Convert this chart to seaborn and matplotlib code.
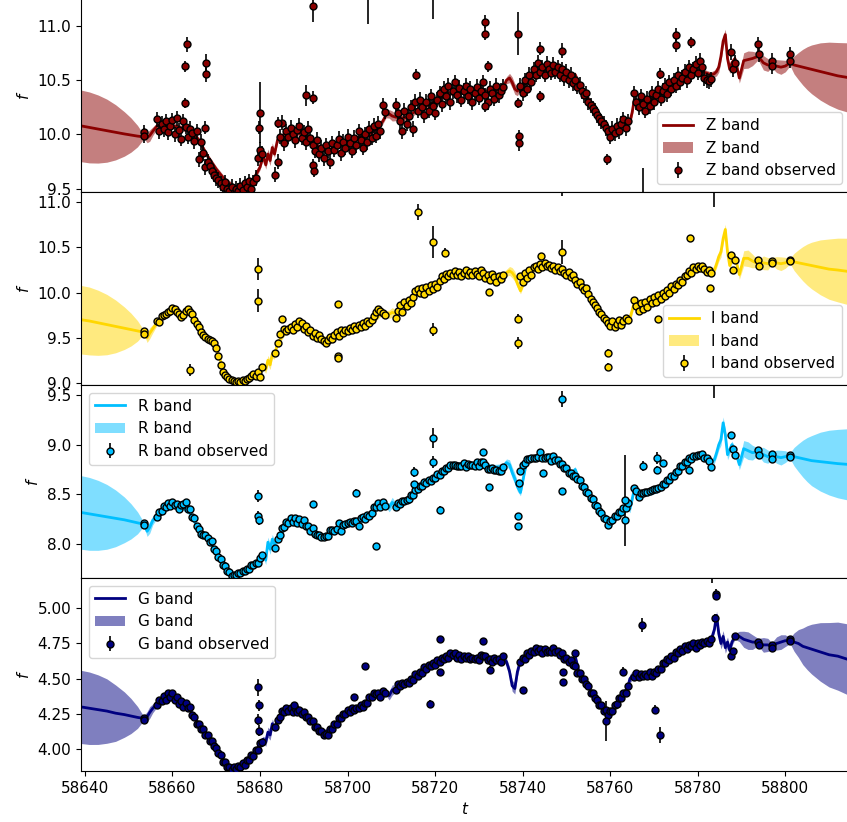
import numpy as np
import matplotlib
matplotlib.use("Agg")
import matplotlib.pyplot as plt
import seaborn as sns

# observation times (MJD), shared by the four bands
obs_t = [
    58653.4, 58653.6,
    58656.5, 58657.0, 58657.5, 58658.0, 58658.5, 58659.0, 58659.5, 58660.0, 58660.5, 58661.0,
    58661.5, 58662.0, 58662.5, 58663.0, 58663.5, 58664.0, 58664.5, 58665.0, 58665.5, 58666.0,
    58666.5, 58667.0, 58667.5, 58668.0, 58668.5, 58669.0, 58669.5, 58670.0, 58670.5, 58671.0,
    58671.5, 58672.0, 58672.5, 58673.0, 58673.5, 58674.0, 58674.5, 58675.0, 58675.5, 58676.0,
    58676.5, 58677.0, 58677.5, 58678.0, 58678.5, 58679.0, 58679.5, 58680.0, 58680.5,
    58683.5, 58684.0, 58684.5, 58685.0, 58685.5, 58686.0, 58686.5, 58687.0, 58687.5, 58688.0,
    58688.5, 58689.0, 58689.5, 58690.0, 58690.5, 58691.0, 58691.5, 58692.0, 58692.5, 58693.0,
    58693.5, 58694.0, 58694.5, 58695.0, 58695.5, 58696.0, 58696.5, 58697.0, 58697.5, 58698.0,
    58698.5, 58699.0, 58699.5, 58700.0, 58700.5, 58701.0, 58701.5, 58702.0, 58702.5, 58703.0,
    58703.5, 58704.0, 58704.5, 58705.0, 58705.5, 58706.0, 58706.5, 58707.0, 58707.5, 58708.0, 58708.5,
    58711.0, 58711.5, 58712.0, 58712.5, 58713.0, 58713.5, 58714.0, 58714.5, 58715.0, 58715.5,
    58716.0, 58716.5, 58717.0, 58717.5, 58718.0, 58718.5, 58719.0, 58719.5, 58720.0, 58720.5,
    58721.0, 58721.5, 58722.0, 58722.5, 58723.0, 58723.5, 58724.0, 58724.5, 58725.0, 58725.5,
    58726.0, 58726.5, 58727.0, 58727.5, 58728.0, 58728.5, 58729.0, 58729.5, 58730.0, 58730.5,
    58731.0, 58731.5, 58732.0, 58732.5, 58733.0, 58733.5, 58734.0, 58734.5, 58735.0, 58735.5,
    58739.5, 58740.0, 58740.5, 58741.0, 58741.5, 58742.0, 58742.5, 58743.0, 58743.5, 58744.0,
    58744.5, 58745.0, 58745.5, 58746.0, 58746.5, 58747.0, 58747.5, 58748.0, 58748.5, 58749.0,
    58749.5, 58750.0, 58750.5, 58751.0, 58751.5, 58752.0, 58752.5, 58753.0, 58753.5, 58754.0,
    58754.5, 58755.0, 58755.5, 58756.0, 58756.5, 58757.0, 58757.5, 58758.0, 58758.5, 58759.0,
    58759.5, 58760.0, 58760.5, 58761.0, 58761.5, 58762.0, 58762.5, 58763.0, 58763.5, 58764.0,
    58765.5, 58766.0, 58766.5, 58767.0, 58767.5, 58768.0, 58768.5, 58769.0, 58769.5, 58770.0,
    58770.5, 58771.0, 58771.5, 58772.0, 58772.5, 58773.0, 58773.5, 58774.0, 58774.5, 58775.0,
    58775.5, 58776.0, 58776.5, 58777.0, 58777.5, 58778.0, 58778.5, 58779.0, 58779.5, 58780.0,
    58780.5, 58781.0, 58781.5, 58782.0, 58782.5, 58783.0,
    58787.5, 58788.0, 58788.5,
    58793.8, 58793.9, 58796.9, 58797.0, 58801.0, 58801.1,
]

z_obs = [
    10.02, 9.99,
    10.14, 10.03, 10.10, 10.05, 10.12, 10.02, 10.08, 10.13, 10.00, 10.15,
    10.04, 9.96, 10.12, 10.07, 9.98, 10.05, 10.01, 9.94, 10.03, 9.77,
    9.93, 9.83, 9.70, 9.75, 9.71, 9.66, 9.63, 9.60, 9.58, 9.55,
    9.52, 9.56, 9.50, 9.48, 9.52, 9.46, 9.50, 9.48, 9.53, 9.49,
    9.55, 9.52, 9.57, 9.50, 9.56, 9.60, 9.78, 9.86, 9.82,
    9.63, 9.75, 9.98, 10.11, 9.92, 10.03, 9.98, 10.06, 10.00, 9.95,
    10.04, 10.08, 9.97, 10.02, 9.93, 10.05, 9.97, 9.90, 9.85, 9.95,
    9.82, 9.88, 9.78, 9.90, 9.85, 9.75, 9.92, 9.86, 9.90, 9.96,
    9.83, 9.93, 9.88, 9.98, 9.92, 9.85, 9.97, 9.90, 10.03, 9.95,
    9.88, 10.00, 9.93, 10.05, 9.97, 10.08, 9.99, 10.10, 10.03, 10.27, 10.21,
    10.27, 10.20, 10.12, 10.03, 10.22, 10.10, 10.17, 10.25, 10.05, 10.30,
    10.22, 10.32, 10.25, 10.18, 10.30, 10.22, 10.35, 10.26, 10.20, 10.32,
    10.38, 10.28, 10.42, 10.35, 10.45, 10.30, 10.40, 10.48, 10.36, 10.43,
    10.32, 10.40, 10.45, 10.35, 10.42, 10.30, 10.38, 10.44, 10.34, 10.40,
    10.48, 10.36, 10.30, 10.42, 10.38, 10.33, 10.45, 10.36, 10.40, 10.44,
    10.45, 10.38, 10.50, 10.42, 10.55, 10.48, 10.60, 10.55, 10.66, 10.58,
    10.62, 10.55, 10.65, 10.60, 10.57, 10.64, 10.58, 10.62, 10.55, 10.60,
    10.52, 10.58, 10.50, 10.55, 10.47, 10.50, 10.44, 10.46, 10.40, 10.36,
    10.38, 10.30, 10.27, 10.24, 10.22, 10.18, 10.15, 10.12, 10.10, 10.06,
    10.03, 9.98, 10.05, 10.01, 10.08, 10.03, 10.10, 10.14, 10.06, 10.12,
    10.38, 10.30, 10.25, 10.35, 10.28, 10.22, 10.33, 10.26, 10.38, 10.30,
    10.36, 10.42, 10.33, 10.40, 10.45, 10.37, 10.48, 10.42, 10.50, 10.45,
    10.55, 10.48, 10.52, 10.58, 10.50, 10.62, 10.55, 10.60, 10.65, 10.57,
    10.68, 10.62, 10.52, 10.50, 10.49, 10.51,
    10.76, 10.60, 10.66,
    10.83, 10.74, 10.68, 10.63, 10.74, 10.68,
]

i_obs = [
    9.57, 9.54,
    9.68, 9.67, 9.74, 9.75, 9.76, 9.78, 9.80, 9.83, 9.82, 9.78,
    9.76, 9.73, 9.75, 9.80, 9.82, 9.79, 9.76, 9.70, 9.65, 9.62,
    9.56, 9.53, 9.51, 9.49, 9.47, 9.46, 9.44, 9.38, 9.30, 9.20,
    9.12, 9.09, 9.06, 9.04, 9.03, 9.02, 9.01, 9.02, 9.01, 9.03,
    9.02, 9.04, 9.05, 9.07, 9.10, 9.08, 9.12, 9.06, 9.18,
    9.33, 9.44, 9.54, 9.71, 9.60, 9.57, 9.60, 9.62, 9.58, 9.65,
    9.62, 9.68, 9.66, 9.60, 9.63, 9.56, 9.58, 9.52, 9.55, 9.50,
    9.53, 9.48, 9.46, 9.44, 9.47, 9.51, 9.49, 9.53, 9.56, 9.52,
    9.58, 9.55, 9.59, 9.57, 9.61, 9.58, 9.63, 9.60, 9.64, 9.62,
    9.66, 9.63, 9.68, 9.66, 9.70, 9.74, 9.78, 9.82, 9.80, 9.77, 9.75,
    9.72, 9.80, 9.86, 9.78, 9.90, 9.85, 9.92, 9.88, 9.95, 10.02,
    10.04, 10.00, 10.05, 9.98, 10.06, 10.02, 10.08, 10.04, 10.10, 10.06,
    10.13, 10.18, 10.15, 10.21, 10.18, 10.22, 10.19, 10.24, 10.20, 10.23,
    10.18, 10.22, 10.25, 10.20, 10.23, 10.19, 10.24, 10.21, 10.18, 10.25,
    10.22, 10.16, 10.20, 10.14, 10.21, 10.17, 10.12, 10.18, 10.15, 10.20,
    10.18, 10.12, 10.22, 10.16, 10.25, 10.20, 10.28, 10.30, 10.26, 10.32,
    10.28, 10.33, 10.29, 10.31, 10.27, 10.30, 10.25, 10.28, 10.24, 10.26,
    10.22, 10.20, 10.23, 10.17, 10.19, 10.14, 10.10, 10.12, 10.06, 10.03,
    10.05, 9.98, 9.93, 9.90, 9.86, 9.83, 9.79, 9.76, 9.72, 9.70,
    9.66, 9.63, 9.68, 9.62, 9.65, 9.70, 9.64, 9.68, 9.72, 9.70,
    9.92, 9.85, 9.80, 9.88, 9.82, 9.90, 9.84, 9.93, 9.88, 9.95,
    9.90, 9.97, 9.93, 10.00, 9.96, 10.03, 10.00, 10.07, 10.04, 10.10,
    10.08, 10.14, 10.12, 10.18, 10.20, 10.24, 10.22, 10.28, 10.26, 10.30,
    10.27, 10.29, 10.26, 10.23, 10.25, 10.22,
    10.42, 10.25, 10.36,
    10.36, 10.29, 10.35, 10.33, 10.36, 10.35,
]

r_obs = [
    8.21, 8.19,
    8.27, 8.32, 8.33, 8.38, 8.37, 8.41, 8.38, 8.42, 8.39, 8.40,
    8.35, 8.39, 8.40, 8.42, 8.35, 8.35, 8.27, 8.26, 8.18, 8.15,
    8.10, 8.09, 8.09, 8.06, 8.02, 8.03, 7.95, 7.93, 7.87, 7.85,
    7.79, 7.78, 7.73, 7.72, 7.68, 7.69, 7.69, 7.71, 7.71, 7.73,
    7.73, 7.75, 7.75, 7.79, 7.79, 7.81, 7.81, 7.86, 7.89,
    7.96, 8.05, 8.09, 8.16, 8.17, 8.22, 8.21, 8.26, 8.22, 8.26,
    8.21, 8.25, 8.20, 8.24, 8.18, 8.18, 8.13, 8.16, 8.10, 8.09,
    8.09, 8.07, 8.07, 8.08, 8.08, 8.14, 8.14, 8.13, 8.15, 8.21,
    8.13, 8.19, 8.20, 8.21, 8.22, 8.21, 8.23, 8.23, 8.18, 8.26,
    8.27, 8.25, 8.29, 8.28, 8.31, 8.37, 8.37, 8.41, 8.37, 8.42, 8.38,
    8.37, 8.41, 8.40, 8.43, 8.43, 8.44, 8.45, 8.49, 8.49, 8.54,
    8.55, 8.59, 8.59, 8.63, 8.62, 8.65, 8.64, 8.67, 8.67, 8.71,
    8.70, 8.74, 8.74, 8.77, 8.77, 8.80, 8.80, 8.80, 8.79, 8.79,
    8.79, 8.82, 8.78, 8.81, 8.80, 8.80, 8.79, 8.83, 8.79, 8.83,
    8.83, 8.80, 8.76, 8.76, 8.77, 8.75, 8.75, 8.74, 8.74, 8.78,
    8.74, 8.80, 8.82, 8.86, 8.86, 8.87, 8.87, 8.87, 8.88, 8.93,
    8.87, 8.87, 8.88, 8.88, 8.84, 8.89, 8.85, 8.85, 8.81, 8.81,
    8.77, 8.77, 8.72, 8.72, 8.69, 8.69, 8.66, 8.65, 8.59, 8.58,
    8.52, 8.51, 8.46, 8.45, 8.39, 8.38, 8.33, 8.31, 8.26, 8.25,
    8.19, 8.23, 8.24, 8.28, 8.28, 8.32, 8.32, 8.36, 8.36, 8.41,
    8.56, 8.53, 8.47, 8.51, 8.51, 8.52, 8.52, 8.53, 8.54, 8.55,
    8.55, 8.56, 8.57, 8.61, 8.61, 8.65, 8.65, 8.69, 8.69, 8.73,
    8.74, 8.79, 8.79, 8.83, 8.83, 8.87, 8.86, 8.89, 8.89, 8.90,
    8.90, 8.91, 8.87, 8.87, 8.84, 8.78,
    9.10, 8.96, 8.90,
    8.95, 8.90, 8.91, 8.86, 8.90, 8.88,
]

g_obs = [
    4.22, 4.21,
    4.31, 4.35, 4.34, 4.38, 4.35, 4.40, 4.37, 4.40, 4.35, 4.37,
    4.32, 4.34, 4.30, 4.33, 4.29, 4.30, 4.24, 4.23, 4.18, 4.18,
    4.14, 4.14, 4.10, 4.10, 4.06, 4.06, 4.02, 4.01, 3.97, 3.96,
    3.91, 3.91, 3.87, 3.87, 3.85, 3.87, 3.86, 3.88, 3.87, 3.90,
    3.89, 3.92, 3.92, 3.96, 3.95, 3.99, 3.99, 4.04, 4.05,
    4.16, 4.21, 4.23, 4.27, 4.26, 4.29, 4.27, 4.29, 4.26, 4.29,
    4.26, 4.28, 4.25, 4.26, 4.23, 4.23, 4.20, 4.20, 4.16, 4.16,
    4.13, 4.13, 4.10, 4.11, 4.10, 4.14, 4.14, 4.18, 4.18, 4.22,
    4.22, 4.25, 4.25, 4.28, 4.26, 4.29, 4.28, 4.29, 4.29, 4.31,
    4.30, 4.33, 4.33, 4.37, 4.37, 4.40, 4.39, 4.40, 4.37, 4.41, 4.40,
    4.42, 4.46, 4.45, 4.47, 4.46, 4.48, 4.47, 4.50, 4.49, 4.53,
    4.52, 4.55, 4.54, 4.58, 4.57, 4.60, 4.59, 4.61, 4.60, 4.63,
    4.62, 4.65, 4.64, 4.66, 4.65, 4.68, 4.67, 4.68, 4.65, 4.67,
    4.64, 4.66, 4.65, 4.66, 4.64, 4.65, 4.64, 4.65, 4.63, 4.67,
    4.66, 4.66, 4.63, 4.64, 4.62, 4.65, 4.63, 4.64, 4.62, 4.66,
    4.62, 4.65, 4.64, 4.68, 4.67, 4.70, 4.69, 4.72, 4.70, 4.71,
    4.68, 4.71, 4.69, 4.70, 4.69, 4.72, 4.69, 4.70, 4.67, 4.68,
    4.64, 4.65, 4.62, 4.63, 4.60, 4.59, 4.54, 4.54, 4.50, 4.50,
    4.46, 4.45, 4.40, 4.40, 4.36, 4.35, 4.31, 4.31, 4.27, 4.28,
    4.24, 4.27, 4.27, 4.31, 4.32, 4.36, 4.36, 4.40, 4.40, 4.45,
    4.51, 4.54, 4.51, 4.53, 4.52, 4.53, 4.52, 4.55, 4.52, 4.55,
    4.54, 4.57, 4.57, 4.61, 4.61, 4.64, 4.63, 4.66, 4.65, 4.69,
    4.68, 4.71, 4.70, 4.73, 4.71, 4.74, 4.73, 4.75, 4.72, 4.75,
    4.74, 4.76, 4.75, 4.77, 4.75, 4.78,
    4.66, 4.70, 4.80,
    4.76, 4.74, 4.74, 4.72, 4.78, 4.77,
]

# typical error per band for the bulk of the points
z_err, i_err, r_err, g_err = 0.07, 0.03, 0.025, 0.015

# outlying points with their own (larger) errors
z_out_t = [58662.8, 58663.2, 58662.9, 58667.6, 58667.6, 58667.4, 58679.7, 58680.0, 58684.0, 58690.6,
           58692.2, 58692.2, 58692.1, 58692.3, 58704.7, 58715.6, 58719.4, 58731.4, 58731.4, 58731.4,
           58732.0, 58739.0, 58739.0, 58739.1, 58739.1, 58744.0, 58744.0, 58749.0, 58759.3, 58767.4,
           58771.3, 58775.0, 58775.0, 58778.4]
z_out_v = [10.63, 10.83, 10.29, 10.66, 10.56, 10.06, 10.06, 10.20, 10.11, 10.36,
           10.34, 11.18, 9.72, 9.66, 11.40, 10.55, 11.35, 11.04, 10.93, 10.26,
           10.63, 10.93, 10.29, 9.99, 9.92, 10.79, 10.35, 10.77, 9.77, 9.40,
           10.56, 10.92, 10.82, 10.85]
z_out_e = [0.05, 0.07, 0.05, 0.08, 0.08, 0.06, 0.06, 0.28, 0.05, 0.10,
           0.06, 0.14, 0.05, 0.05, 0.38, 0.05, 0.29, 0.06, 0.06, 0.05,
           0.05, 0.20, 0.05, 0.05, 0.07, 0.06, 0.05, 0.07, 0.05, 0.29,
           0.05, 0.06, 0.06, 0.05]

i_out_t = [58664.1, 58679.6, 58679.6, 58697.7, 58697.7, 58697.8, 58716.0, 58719.5, 58719.5, 58722.2,
           58732.4, 58739.0, 58739.0, 58744.1, 58748.9, 58749.0, 58759.4, 58759.4, 58770.9, 58778.3,
           58782.9, 58783.6]
i_out_v = [9.14, 10.26, 9.91, 9.87, 9.30, 9.28, 10.89, 10.56, 9.59, 10.44,
           10.01, 9.71, 9.44, 10.41, 10.45, 11.35, 9.33, 9.18, 9.71, 10.60,
           10.05, 11.25]
i_out_e = [0.07, 0.12, 0.13, 0.04, 0.03, 0.03, 0.09, 0.18, 0.07, 0.05,
           0.03, 0.05, 0.07, 0.03, 0.13, 0.28, 0.04, 0.04, 0.03, 0.04,
           0.03, 0.30]

r_out_t = [58679.6, 58679.6, 58679.7, 58692.2, 58701.9, 58706.4, 58715.1, 58715.1, 58719.5, 58719.5,
           58721.1, 58731.0, 58732.3, 58739.0, 58739.0, 58739.2, 58749.0, 58749.0, 58744.6, 58763.3,
           58763.3, 58767.4, 58770.8, 58770.8, 58772.0, 58778.1, 58783.6]
r_out_v = [8.48, 8.28, 8.24, 8.40, 8.51, 7.98, 8.73, 8.61, 9.07, 8.83,
           8.34, 8.93, 8.58, 8.28, 8.18, 8.62, 9.46, 8.53, 8.72, 8.44,
           8.24, 8.79, 8.87, 8.75, 8.82, 8.75, 9.75]
r_out_e = [0.06, 0.05, 0.05, 0.02, 0.04, 0.03, 0.05, 0.03, 0.10, 0.06,
           0.04, 0.02, 0.02, 0.03, 0.03, 0.03, 0.08, 0.03, 0.02, 0.46,
           0.03, 0.05, 0.06, 0.04, 0.03, 0.04, 0.28]

g_out_t = [58679.5, 58679.6, 58679.7, 58679.8, 58687.8, 58701.5, 58704.0, 58718.9, 58721.0, 58721.0,
           58731.0, 58732.5, 58740.0, 58749.2, 58749.2, 58751.9, 58759.0, 58762.9, 58767.3, 58770.3,
           58771.3, 58784.0, 58784.1, 58784.2, 58783.2]
g_out_v = [4.21, 4.44, 4.31, 4.13, 4.31, 4.37, 4.59, 4.32, 4.78, 4.55,
           4.77, 4.56, 4.42, 4.55, 4.48, 4.68, 4.20, 4.55, 4.88, 4.28,
           4.10, 4.93, 5.10, 5.09, 5.32]
g_out_e = [0.04, 0.06, 0.04, 0.04, 0.02, 0.02, 0.02, 0.03, 0.02, 0.02,
           0.02, 0.03, 0.02, 0.02, 0.02, 0.02, 0.14, 0.03, 0.05, 0.03,
           0.06, 0.03, 0.04, 0.03, 0.14]

# model prediction knots
model_t = [
    58639.0, 58641.0, 58643.0, 58645.0, 58647.0, 58649.0, 58650.5, 58652.0, 58653.0, 58653.5,
    58654.2, 58654.8, 58655.5, 58656.5,
    58658, 58660, 58662, 58664, 58666, 58668, 58670, 58672, 58674, 58676, 58678, 58680, 58680.7,
    58681.3, 58681.8, 58682.3, 58682.8, 58683.3,
    58684, 58686, 58688, 58690, 58692, 58694, 58696, 58698, 58700, 58702, 58704, 58706, 58708, 58708.8,
    58709.5, 58710.2, 58711,
    58713, 58715, 58717, 58719, 58721, 58723, 58725, 58727, 58729, 58731, 58733, 58735.5,
    58736.3, 58737.0, 58737.6, 58738.2, 58738.8, 58739.5,
    58741, 58743, 58745, 58747, 58749, 58751, 58752, 58753, 58755, 58757, 58759, 58760, 58762, 58764,
    58764.5, 58765, 58765.5,
    58767, 58769, 58771, 58773, 58775, 58777, 58779, 58781, 58783,
    58783.8, 58784.3, 58784.8, 58785.3, 58785.8, 58786.3, 58786.8, 58787.3, 58787.8, 58788.5,
    58789.5, 58790.5, 58791.5, 58792.5, 58793.8, 58795, 58796, 58796.9, 58798, 58799, 58800, 58801.1,
    58802, 58803, 58804, 58805, 58806, 58808, 58810, 58812, 58815,
]

z_model = [
    10.08, 10.065, 10.05, 10.035, 10.02, 10.005, 9.995, 9.985, 9.98, 9.985,
    9.97, 9.99, 10.03, 10.08,
    10.09, 10.08, 10.06, 10.04, 9.95, 9.80, 9.68, 9.58, 9.52, 9.50, 9.55, 9.70, 9.80,
    9.72, 9.82, 9.76, 9.88, 9.82,
    9.95, 10.02, 10.02, 10.00, 9.93, 9.87, 9.86, 9.90, 9.95, 9.97, 9.98, 10.03, 10.12, 10.18,
    10.19, 10.17, 10.16,
    10.15, 10.20, 10.25, 10.28, 10.33, 10.38, 10.40, 10.40, 10.39, 10.40, 10.39, 10.43,
    10.50, 10.52, 10.48, 10.42, 10.40, 10.44,
    10.48, 10.56, 10.60, 10.60, 10.57, 10.52, 10.55, 10.46, 10.33, 10.20, 10.09, 10.03, 10.06, 10.10,
    10.12, 10.20, 10.32,
    10.30, 10.31, 10.37, 10.42, 10.48, 10.54, 10.58, 10.58, 10.55,
    10.56, 10.58, 10.62, 10.72, 10.86, 10.92, 10.70, 10.60, 10.66, 10.70,
    10.52, 10.68, 10.69, 10.70, 10.72, 10.66, 10.64, 10.65, 10.63, 10.62, 10.63, 10.66,
    10.64, 10.63, 10.62, 10.61, 10.60, 10.58, 10.56, 10.54, 10.52,
]

i_model = [
    9.70, 9.685, 9.665, 9.645, 9.625, 9.605, 9.59, 9.575, 9.565, 9.56,
    9.50, 9.55, 9.60, 9.67,
    9.75, 9.80, 9.76, 9.78, 9.60, 9.49, 9.38, 9.09, 9.02, 9.02, 9.06, 9.12, 9.18,
    9.15, 9.25, 9.20, 9.32, 9.30,
    9.44, 9.58, 9.63, 9.62, 9.54, 9.49, 9.49, 9.54, 9.58, 9.61, 9.63, 9.70, 9.78, 9.77,
    9.76, 9.78, 9.77,
    9.87, 9.96, 10.02, 10.05, 10.12, 10.19, 10.22, 10.22, 10.22, 10.21, 10.18, 10.18,
    10.22, 10.24, 10.22, 10.18, 10.10, 10.02,
    10.20, 10.28, 10.31, 10.28, 10.25, 10.19, 10.14, 10.11, 9.98, 9.83, 9.70, 9.64, 9.67, 9.70,
    9.72, 9.80, 9.90,
    9.85, 9.90, 9.95, 10.01, 10.09, 10.17, 10.26, 10.28, 10.24,
    10.25, 10.32, 10.40, 10.45, 10.60, 10.70, 10.45, 10.30, 10.36, 10.40,
    10.20, 10.38, 10.38, 10.35, 10.32, 10.33, 10.32, 10.35, 10.33, 10.32, 10.33, 10.35,
    10.34, 10.33, 10.32, 10.31, 10.30, 10.28, 10.26, 10.25, 10.23,
]

r_model = [
    8.32, 8.305, 8.29, 8.275, 8.26, 8.245, 8.23, 8.215, 8.205, 8.20,
    8.13, 8.17, 8.24, 8.29,
    8.36, 8.40, 8.38, 8.32, 8.14, 8.06, 7.92, 7.77, 7.69, 7.71, 7.77, 7.84, 7.90,
    7.84, 8.02, 7.95, 8.05, 8.00,
    8.04, 8.20, 8.24, 8.22, 8.15, 8.08, 8.11, 8.17, 8.20, 8.22, 8.26, 8.34, 8.40, 8.40,
    8.37, 8.42, 8.38,
    8.43, 8.50, 8.60, 8.65, 8.71, 8.78, 8.80, 8.80, 8.80, 8.81, 8.77, 8.78,
    8.82, 8.80, 8.72, 8.66, 8.58, 8.52,
    8.85, 8.87, 8.88, 8.87, 8.80, 8.71, 8.75, 8.64, 8.50, 8.37, 8.24, 8.20, 8.31, 8.38,
    8.36, 8.45, 8.55,
    8.50, 8.52, 8.55, 8.64, 8.72, 8.82, 8.88, 8.90, 8.82,
    8.85, 8.92, 9.00, 9.05, 9.22, 9.10, 8.90, 8.95, 9.00, 8.95,
    8.80, 8.96, 8.94, 8.92, 8.93, 8.90, 8.88, 8.89, 8.88, 8.87, 8.88, 8.89,
    8.88, 8.87, 8.86, 8.85, 8.84, 8.83, 8.82, 8.81, 8.80,
]

g_model = [
    4.30, 4.29, 4.28, 4.27, 4.255, 4.245, 4.235, 4.225, 4.22, 4.22,
    4.23, 4.26, 4.29, 4.32,
    4.36, 4.38, 4.32, 4.28, 4.17, 4.09, 4.00, 3.90, 3.86, 3.89, 3.95, 4.03, 4.07,
    4.05, 4.12, 4.10, 4.18, 4.15,
    4.20, 4.28, 4.28, 4.25, 4.19, 4.12, 4.13, 4.21, 4.27, 4.28, 4.32, 4.39, 4.40, 4.40,
    4.38, 4.42, 4.43,
    4.47, 4.50, 4.55, 4.60, 4.63, 4.66, 4.66, 4.66, 4.65, 4.66, 4.64, 4.65,
    4.62, 4.55, 4.45, 4.43, 4.55, 4.63,
    4.67, 4.71, 4.70, 4.70, 4.67, 4.62, 4.66, 4.53, 4.44, 4.34, 4.27, 4.25, 4.35, 4.44,
    4.50, 4.52, 4.52,
    4.52, 4.53, 4.56, 4.63, 4.68, 4.72, 4.74, 4.75, 4.77,
    4.85, 4.95, 4.82, 4.75, 4.80, 4.72, 4.76, 4.70, 4.76, 4.80,
    4.80, 4.78, 4.77, 4.76, 4.76, 4.74, 4.74, 4.73, 4.75, 4.76, 4.77, 4.77,
    4.76, 4.75, 4.73, 4.72, 4.71, 4.69, 4.67, 4.66, 4.63,
]

# relative width of the prediction band at each knot, and its size per band
band_shape = [
    1.0, 0.99, 0.95, 0.88, 0.77, 0.62, 0.48, 0.30, 0.13, 0.07,
    0.14, 0.16, 0.12, 0.08,
    0.08, 0.08, 0.08, 0.08, 0.08, 0.08, 0.08, 0.08, 0.08, 0.08, 0.08, 0.08, 0.08,
    0.12, 0.14, 0.14, 0.13, 0.10,
    0.08, 0.08, 0.08, 0.08, 0.08, 0.08, 0.08, 0.08, 0.08, 0.08, 0.08, 0.08, 0.08, 0.08,
    0.12, 0.14, 0.10,
    0.08, 0.08, 0.08, 0.08, 0.08, 0.08, 0.08, 0.08, 0.08, 0.08, 0.08, 0.08,
    0.10, 0.13, 0.15, 0.15, 0.13, 0.09,
    0.08, 0.08, 0.08, 0.08, 0.08, 0.08, 0.08, 0.08, 0.08, 0.08, 0.08, 0.08, 0.08, 0.08,
    0.12, 0.12, 0.09,
    0.08, 0.08, 0.08, 0.08, 0.08, 0.08, 0.08, 0.08, 0.08,
    0.10, 0.12, 0.14, 0.15, 0.16, 0.15, 0.14, 0.12, 0.10, 0.08,
    0.14, 0.22, 0.24, 0.20, 0.10, 0.20, 0.18, 0.10, 0.18, 0.20, 0.16, 0.08,
    0.25, 0.38, 0.50, 0.60, 0.68, 0.80, 0.88, 0.93, 0.98,
]
band_size = {"Z": 0.33, "I": 0.38, "R": 0.37, "G": 0.26}

panels = [
    ("Z", z_obs, z_err, z_out_t, z_out_v, z_out_e, z_model, "darkred",
     "lower right", (9.47, 11.25), [9.5, 10.0, 10.5, 11.0], "{:.1f}"),
    ("I", i_obs, i_err, i_out_t, i_out_v, i_out_e, i_model, "gold",
     "lower right", (8.975, 11.115), [9.0, 9.5, 10.0, 10.5, 11.0], "{:.1f}"),
    ("R", r_obs, r_err, r_out_t, r_out_v, r_out_e, r_model, "deepskyblue",
     "upper left", (7.66, 9.60), [8.0, 8.5, 9.0, 9.5], "{:.1f}"),
    ("G", g_obs, g_err, g_out_t, g_out_v, g_out_e, g_model, "navy",
     "upper left", (3.844, 5.215), [4.0, 4.25, 4.5, 4.75, 5.0], "{:.2f}"),
]

fig = plt.figure(figsize=(8.47, 8.22), dpi=100)
left, width = 0.0956, 0.907
bottoms = [0.7664, 0.5316, 0.2968, 0.0620]
tops = [1.0015, 0.7664, 0.5316, 0.2968]

axes = []
for k, (name, obs, err, out_t, out_v, out_e, model, color, loc, ylim, yticks, fmt) in enumerate(panels):
    ax = fig.add_axes([left, bottoms[k], width, tops[k] - bottoms[k]],
                      sharex=axes[0] if axes else None)
    axes.append(ax)

    # mean prediction first so it comes first in the legend
    sns.lineplot(x=model_t, y=model, color=color, linewidth=2, errorbar=None,
                 label=f"{name} band", ax=ax)
    mean = np.array(model)
    half = band_size[name] * np.array(band_shape)
    ax.fill_between(model_t, mean - half, mean + half, color=color, alpha=0.5,
                    linewidth=0, zorder=1, label=f"{name} band")

    t_all = obs_t + out_t
    v_all = obs + out_v
    e_all = [err] * len(obs) + out_e
    ax.errorbar(t_all, v_all, yerr=e_all, fmt="o", color=color, mec="k", mew=1,
                ms=5, ecolor="k", elinewidth=1.2, zorder=3,
                label=f"{name} band observed")

    ax.set_ylim(*ylim)
    ax.set_yticks(yticks)
    ax.set_yticklabels([fmt.format(v) for v in yticks])
    ax.set_ylabel("$f$", fontsize=11)
    ax.tick_params(labelsize=11)
    ax.legend(loc=loc, fontsize=11)
    if k < 3:
        ax.tick_params(labelbottom=False)

axes[0].set_xlim(58639.09, 58814.6)
axes[-1].set_xticks([58640, 58660, 58680, 58700, 58720, 58740, 58760, 58780, 58800])
axes[-1].ticklabel_format(axis="x", useOffset=False, style="plain")
axes[-1].set_xlabel("$t$", fontsize=11)

fig.savefig("out.png", dpi=100)
